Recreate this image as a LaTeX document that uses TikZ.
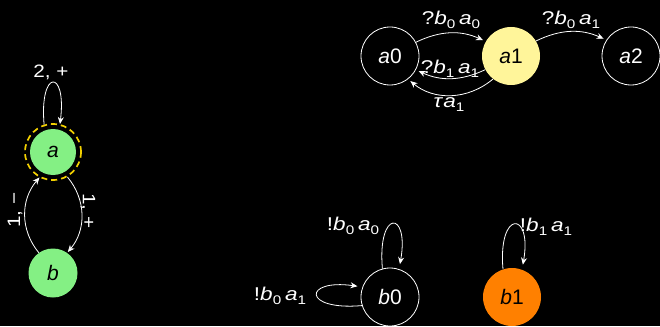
\documentclass[tikz,border=0pt]{standalone}
\usepackage{fontspec}
\setmainfont{Liberation Sans}
\usetikzlibrary{arrows.meta}
\definecolor{lgreen}{HTML}{84F084}
\definecolor{lyellow}{HTML}{FFF59A}
\definecolor{dyellow}{HTML}{F2D000}
\definecolor{orng}{HTML}{FF8000}
\newcommand\sbs[1]{\raisebox{-4pt}{\fontsize{12.5}{12.5}\selectfont #1}}
\newcommand\trlbl[3]{\scalebox{1.22}[1]{#1\textit{b}\sbs{#2}\,\textit{a}\sbs{#3}}}
\begin{document}
\begin{tikzpicture}[x=1pt,y=1pt,
  state/.style={circle, inner sep=0pt, minimum size=58pt, font=\fontsize{21}{21}\selectfont},
  open/.style={state, draw=white, line width=0.8pt, fill=black, text=white},
  edge/.style={draw=white, line width=0.8pt, -{Stealth[length=7pt,width=6pt]}, shorten >=3pt},
  loopedge/.style={edge, shorten >=5pt},
  lbl/.style={text=white, inner sep=0pt, font=\fontsize{18.5}{18.5}\selectfont},
  slbl/.style={text=white, inner sep=0pt, font=\fontsize{18}{18}\selectfont}]
\fill[black] (0,0) rectangle (660,-326);
\useasboundingbox (0,0) rectangle (660,-326);

% left automaton
\node[state, fill=lgreen, minimum size=46pt] (a) at (53,-152) {\textit{a}};
\node[circle, draw=dyellow, dash pattern=on 6pt off 4pt, line width=1.7pt, minimum size=56pt, inner sep=0pt] (ar) at (a) {};
\node[state, fill=lgreen, minimum size=49pt] (b) at (53,-273) {\textit{b}};

\draw[edge, shorten >=0pt] (ar.108) .. controls +(95:56) and +(83:56) .. (ar.76);
\draw[edge, shorten >=1pt] (ar.-60) to[bend left=40] (b.55);
\draw[edge, shorten >=0pt] (b.125) to[bend left=40] (ar.-118);
\node[slbl] (l2p) at (51,-72) {\scalebox{1.15}[1]{2, +}};
\node[slbl, rotate=-90] (l1p) at (88,-211) {\scalebox{1.15}[1]{1, +}};
\node[slbl, rotate=90] (l1m) at (15,-210) {\scalebox{1.15}[1]{1, −}};

% top automaton
\node[open] (a0) at (390,-56) {\textit{a}0};
\node[state, fill=lyellow] (a1) at (511,-56) {\textit{a}1};
\node[open] (a2) at (631,-56) {\textit{a}2};

\draw[edge] (a0.28) to[bend left=25] (a1.150);
\draw[edge] (a1.208) to[bend left=25] (a0.-28);
\draw[edge] (a1.232) to[bend left=40] (a0.-52);
\draw[edge] (a1.31) to[bend left=25] (a2.147);
\node[lbl] (lq00) at (451,-20) {\trlbl{?}{0}{0}};
\node[lbl] (lq11) at (450,-69) {\trlbl{?}{1}{1}};
\node[lbl] (ltau) at (449,-105) {\scalebox{1.22}[1]{\textit{τ}\textit{a}\sbs{1}}};
\node[lbl] (lq01) at (571,-20) {\trlbl{?}{0}{1}};

% bottom automaton
\node[open] (b0) at (390,-297) {\textit{b}0};
\node[state, fill=orng] (b1) at (512,-297) {\textit{b}1};

\draw[loopedge] (b0.105) .. controls +(95:60) and +(80:60) .. (b0.72);
\draw[loopedge] (b0.197) .. controls +(185:60) and +(172:60) .. (b0.160);
\draw[loopedge] (b1.108) .. controls +(95:60) and +(80:60) .. (b1.70);
\node[lbl] (le00) at (353,-226) {\trlbl{!}{0}{0}};
\node[lbl] (le01) at (280,-296) {\trlbl{!}{0}{1}};
\node[lbl] (le11) at (546,-227) {\trlbl{!}{1}{1}};
\end{tikzpicture}
\end{document}
